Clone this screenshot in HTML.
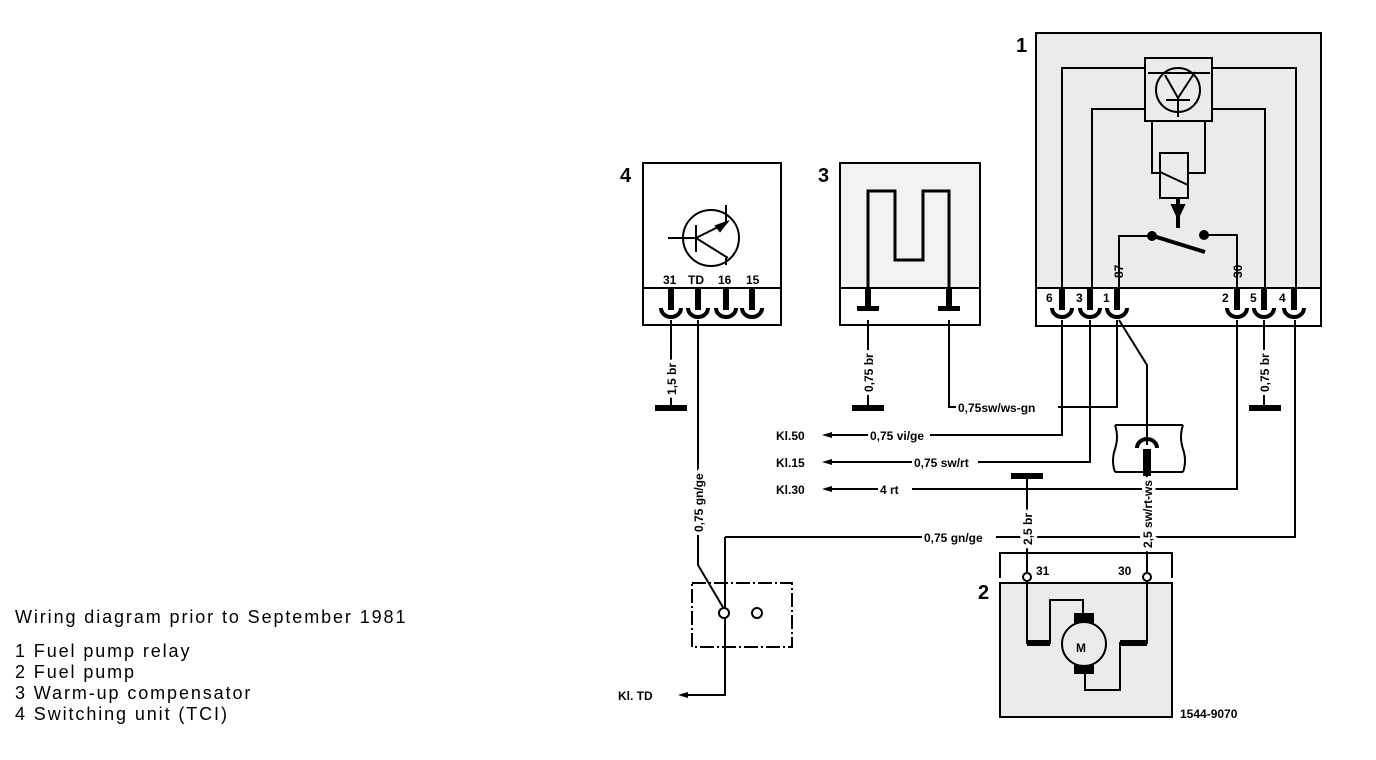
<!DOCTYPE html>
<html><head><meta charset="utf-8"><style>
html,body{margin:0;padding:0;background:#fff;}
svg{display:block;}
text{font-family:"Liberation Sans",sans-serif;fill:#000;}
.lg{font-size:18px;letter-spacing:1.9px;}
.lb{font-size:12px;font-weight:bold;}
.rl{paint-order:stroke;stroke:#fff;stroke-width:7px;}
.num{font-size:20px;font-weight:bold;}
</style></head><body>
<svg width="1376" height="760" viewBox="0 0 1376 760" xmlns="http://www.w3.org/2000/svg">
<defs>
<g id="pin"><rect x="-3" y="0" width="6" height="22" fill="#000"/><path d="M-10,20 A10,9 0 0 0 10,20" fill="none" stroke="#000" stroke-width="4"/></g>
<g id="pinT"><rect x="-3" y="0" width="6" height="22" fill="#000"/><rect x="-11" y="18" width="22" height="5" fill="#000"/></g>
<g id="arr"><path d="M0,0 L10,-3 L10,3 Z" fill="#000"/></g>
</defs>
<g fill="none" stroke="#000" stroke-width="2">
<rect x="1036" y="33" width="285" height="255" fill="#ebebeb"/>
<path d="M1036,288 V326 H1321 V288"/>
<path d="M1062,288 V68 H1296 V288"/>
<path d="M1092,288 V109 H1265 V288"/>
<rect x="1145" y="58" width="67" height="63" fill="#ebebeb"/>
<circle cx="1178" cy="90" r="22"/>
<path d="M1148,73 H1210 M1165,75 L1178,98 L1195,72 M1166,100 H1190 M1178,98 V117"/>
<path d="M1152,121 V173 H1160 M1188,173 H1205 V121"/>
<rect x="1160" y="153" width="28" height="45" fill="#ebebeb"/>
<path d="M1160,172 L1188,185"/>
<path d="M1178,198 V228" stroke-width="4"/>
<path d="M1172,205 L1178,218 L1184,205 Z" fill="#000"/>
<path d="M1119,288 V236 H1150"/>
<path d="M1150,235 L1205,252" stroke-width="4"/>
<circle cx="1152" cy="236" r="4" fill="#000"/>
<circle cx="1204" cy="235" r="4" fill="#000"/>
<path d="M1208,235 H1237 V288"/>
<rect x="643" y="163" width="138" height="125"/>
<path d="M643,288 V325 H781 V288"/>
<circle cx="711" cy="238" r="28"/>
<path d="M668,238 H696 M696,225 V252 M696,238 L728,222 M696,238 L728,258 M726,222 V205 M726,258 V265"/>
<path d="M716,226 L727,222 L720,231 Z" fill="#000"/>
<rect x="840" y="163" width="140" height="125" fill="#f2f2f2"/>
<path d="M840,288 V325 H980 V288"/>
<path d="M868,288 V191 H895 V260 H923 V191 H949 V288" stroke-width="3"/>
<path d="M671,320 V408"/>
<path d="M655,408 H687" stroke-width="6"/>
<path d="M698,320 V565 L724,609"/>
<path d="M725,537 H1295 V320"/>
<path d="M725,537 V695 H686"/>
<path d="M692,583 H792 V647 H692 Z" stroke-dasharray="14,3,2,3"/>
<circle cx="724" cy="613" r="5" fill="#fff"/>
<circle cx="757" cy="613" r="5" fill="#fff"/>
<path d="M868,320 V408"/>
<path d="M852,408 H884" stroke-width="6"/>
<path d="M949,320 V407 H1117 V320"/>
<path d="M1062,320 V435 H830"/>
<path d="M1090,320 V462 H830"/>
<path d="M1237,320 V489 H830"/>
<path d="M1264,320 V408"/>
<path d="M1249,408 H1281" stroke-width="6"/>
<path d="M1119,320 L1147,365 V445"/>
<path d="M1147,462 V573"/>
<path d="M1115,425 H1183 M1115,472 H1183 M1115,425 q4,12 0,24 q-4,12 0,23 M1183,425 q-4,12 0,24 q4,12 0,23"/>
<path d="M1137,448 A10,9 0 0 1 1157,448" stroke-width="4"/>
<rect x="1144" y="450" width="6" height="25" fill="#000"/>
<path d="M1027,476 V573"/>
<path d="M1011,476 H1043" stroke-width="6"/>
<path d="M1000,578 V553 H1172 V578"/>
<rect x="1000" y="583" width="172" height="134" fill="#ebebeb"/>
<circle cx="1027" cy="577" r="4" fill="#fff"/>
<circle cx="1147" cy="577" r="4" fill="#fff"/>
<path d="M1027,581 V643 H1050 V600 H1083 V620"/>
<path d="M1147,581 V643 H1120 V690 H1085 V668"/>
<path d="M1027,643 H1050" stroke-width="6"/>
<path d="M1120,643 H1147" stroke-width="6"/>
<rect x="1075" y="614" width="18" height="8" fill="#000"/>
<rect x="1075" y="665" width="18" height="8" fill="#000"/>
<circle cx="1084" cy="644" r="22" fill="#ebebeb"/>
</g>
<use href="#pin" x="1062" y="288"/><use href="#pin" x="1090" y="288"/><use href="#pin" x="1117" y="288"/>
<use href="#pin" x="1237" y="288"/><use href="#pin" x="1264" y="288"/><use href="#pin" x="1294" y="288"/>
<use href="#pin" x="671" y="288"/><use href="#pin" x="698" y="288"/><use href="#pin" x="726" y="288"/><use href="#pin" x="752" y="288"/>
<use href="#pinT" x="868" y="288"/><use href="#pinT" x="949" y="288"/>
<use href="#arr" x="822" y="435"/><use href="#arr" x="822" y="462"/><use href="#arr" x="822" y="489"/><use href="#arr" x="678" y="695"/>
<text class="num" x="1016" y="52">1</text>
<text class="num" x="620" y="182">4</text>
<text class="num" x="818" y="182">3</text>
<text class="num" x="978" y="599">2</text>
<text class="lb" x="1046" y="302">6</text><text class="lb" x="1076" y="302">3</text><text class="lb" x="1103" y="302">1</text>
<text class="lb" x="1222" y="302">2</text><text class="lb" x="1250" y="302">5</text><text class="lb" x="1279" y="302">4</text>
<text class="lb" x="663" y="284" font-size="11">31</text><text class="lb" x="688" y="284" font-size="11">TD</text>
<text class="lb" x="718" y="284" font-size="11">16</text><text class="lb" x="746" y="284" font-size="11">15</text>
<text class="lb" transform="translate(1123,278) rotate(-90)" font-size="11">87</text>
<text class="lb" transform="translate(1242,278) rotate(-90)" font-size="11">30</text>
<text class="lb rl" transform="translate(676,395) rotate(-90)">1,5 br</text>
<text class="lb rl" transform="translate(703,532) rotate(-90)">0,75 gn/ge</text>
<text class="lb rl" transform="translate(873,392) rotate(-90)">0,75 br</text>
<text class="lb rl" transform="translate(1269,392) rotate(-90)">0,75 br</text>
<text class="lb rl" transform="translate(1032,545) rotate(-90)">2,5 br</text>
<text class="lb rl" transform="translate(1152,548) rotate(-90)">2,5 sw/rt-ws</text>
<rect x="956" y="400" width="102" height="14" fill="#fff"/>
<text class="lb" x="958" y="412">0,75sw/ws-gn</text>
<rect x="868" y="428" width="62" height="14" fill="#fff"/>
<text class="lb" x="870" y="440">0,75 vi/ge</text>
<rect x="912" y="455" width="66" height="14" fill="#fff"/>
<text class="lb" x="914" y="467">0,75 sw/rt</text>
<rect x="878" y="482" width="34" height="14" fill="#fff"/>
<text class="lb" x="880" y="494">4 rt</text>
<rect x="922" y="530" width="74" height="14" fill="#fff"/>
<text class="lb" x="924" y="542">0,75 gn/ge</text>
<text class="lb" x="776" y="440">Kl.50</text>
<text class="lb" x="776" y="467">Kl.15</text>
<text class="lb" x="776" y="494">Kl.30</text>
<text class="lb" x="618" y="700">Kl. TD</text>
<text class="lb" x="1036" y="575">31</text>
<text class="lb" x="1118" y="575">30</text>
<text class="lb" x="1076" y="652" font-size="14">M</text>
<text class="lb" x="1180" y="718" font-size="11">1544-9070</text>
<text class="lg" x="15" y="623">Wiring diagram prior to September 1981</text>
<text class="lg" x="15" y="657">1  Fuel pump relay</text>
<text class="lg" x="15" y="678">2  Fuel pump</text>
<text class="lg" x="15" y="699">3  Warm-up compensator</text>
<text class="lg" x="15" y="720">4  Switching unit (TCI)</text>
</svg>
</body></html>
